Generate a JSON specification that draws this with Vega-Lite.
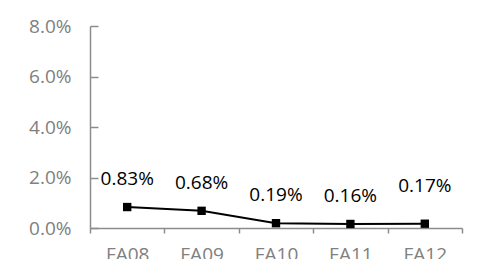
{
  "$schema": "https://vega.github.io/schema/vega-lite/v6.json",
  "width": 372,
  "height": 202,
  "autosize": {"type": "none"},
  "padding": {"left": 90, "top": 26, "right": 17, "bottom": 31},
  "background": "white",
  "config": {"view": {"stroke": null}, "font": "Open Sans"},
  "data": {
    "values": [
      {"year": "FA08", "rate": 0.0083},
      {"year": "FA09", "rate": 0.0068},
      {"year": "FA10", "rate": 0.0019},
      {"year": "FA11", "rate": 0.0016},
      {"year": "FA12", "rate": 0.0017}
    ]
  },
  "encoding": {
    "x": {
      "field": "year",
      "type": "ordinal",
      "sort": null,
      "scale": {"type": "band", "paddingInner": 0, "paddingOuter": 0},
      "axis": {
        "title": null,
        "labelAngle": 0,
        "domainColor": "#8c8c8c",
        "domainWidth": 1.5,
        "tickColor": "#8c8c8c",
        "tickWidth": 1.5,
        "tickSize": 5,
        "tickBand": "extent",
        "labelColor": "#808080",
        "labelFontSize": 19,
        "labelPadding": 12,
        "labelFont": "Open Sans"
      }
    },
    "y": {
      "field": "rate",
      "type": "quantitative",
      "scale": {"domain": [0, 0.08], "nice": false},
      "axis": {
        "title": null,
        "grid": false,
        "values": [0, 0.02, 0.04, 0.06, 0.08],
        "format": ".1%",
        "domainColor": "#8c8c8c",
        "domainWidth": 1.5,
        "tickColor": "#8c8c8c",
        "tickWidth": 1.5,
        "tickSize": -8,
        "labelColor": "#808080",
        "labelFontSize": 19,
        "labelPadding": 27,
        "labelFont": "Open Sans"
      }
    }
  },
  "layer": [
    {"mark": {"type": "line", "color": "black", "strokeWidth": 2}},
    {"mark": {"type": "square", "size": 70, "color": "black", "opacity": 1, "filled": true}},
    {
      "transform": [{"filter": "datum.year != 'FA12'"}],
      "mark": {"type": "text", "dy": -28, "fontSize": 19, "color": "black", "baseline": "middle", "font": "Open Sans"},
      "encoding": {"text": {"field": "rate", "type": "quantitative", "format": ".2%"}}
    },
    {
      "transform": [{"filter": "datum.year == 'FA12'"}],
      "mark": {"type": "text", "dy": -38, "fontSize": 19, "color": "black", "baseline": "middle", "font": "Open Sans"},
      "encoding": {"text": {"field": "rate", "type": "quantitative", "format": ".2%"}}
    }
  ]
}
